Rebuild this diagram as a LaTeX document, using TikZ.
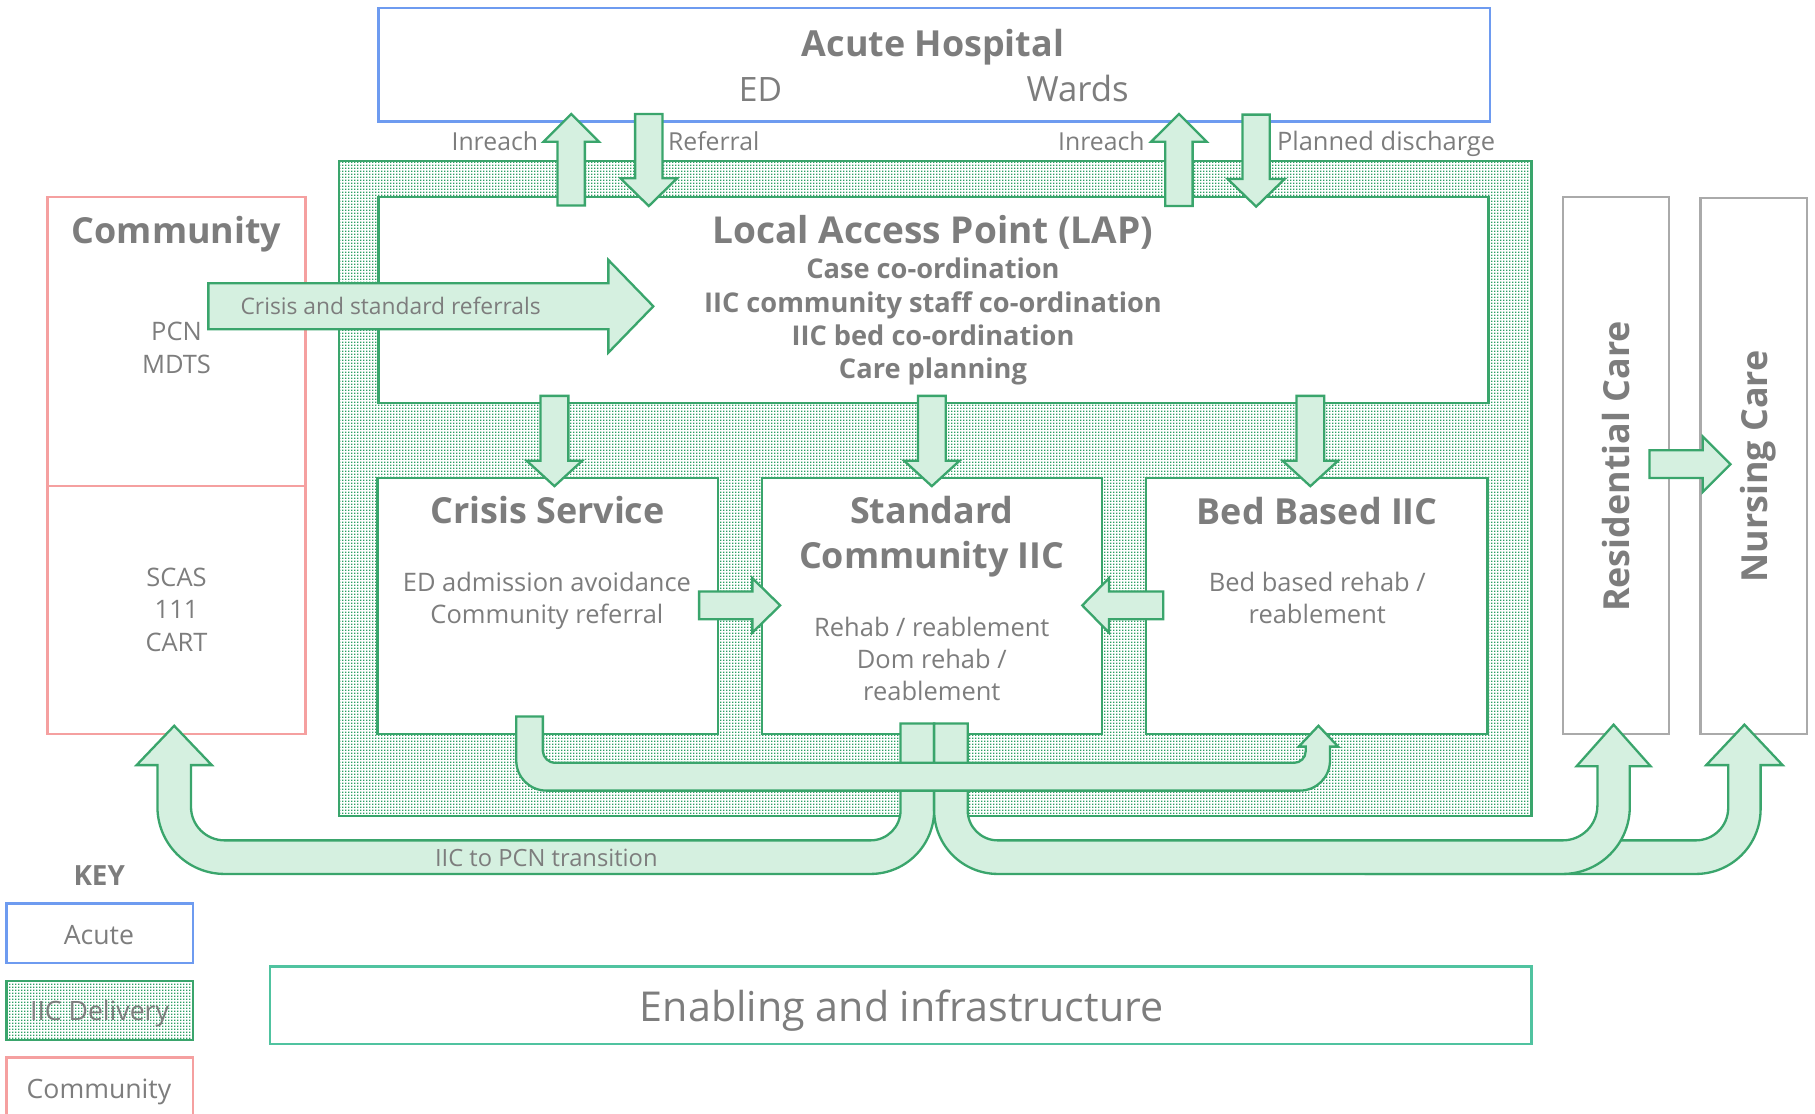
\documentclass[tikz,border=0pt]{standalone}
\usepackage{fontspec}
\setmainfont{Open Sans}
\usetikzlibrary{patterns}
\definecolor{tgray}{RGB}{125,125,125}
\definecolor{bblue}{RGB}{110,155,240}
\definecolor{ggreen}{RGB}{58,165,108}
\definecolor{dotgreen}{RGB}{45,160,100}
\definecolor{lgreen}{RGB}{213,240,224}
\definecolor{ppink}{RGB}{245,160,160}
\definecolor{bgray}{RGB}{170,170,170}
\definecolor{tealb}{RGB}{80,195,160}
\pgfdeclarepatternformonly{finedots}{\pgfqpoint{0pt}{0pt}}{\pgfqpoint{2.592pt}{2.592pt}}{\pgfqpoint{2.592pt}{2.592pt}}{\pgfpathrectangle{\pgfqpoint{0pt}{0pt}}{\pgfqpoint{1.6pt}{1.6pt}}\pgfusepath{fill}}
\newcommand\fsz[1]{\fontsize{#1}{#1}\selectfont}
% vertical block arrow: cx, tail y, head-base y, tip y, shaft half width, head half width
\newcommand\vblock[6]{\draw[blk] (#1-#5,#2) -- (#1-#5,#3) -- (#1-#6,#3) -- (#1,#4) -- (#1+#6,#3) -- (#1+#5,#3) -- (#1+#5,#2) -- cycle;}
% horizontal block arrow: cy, tail x, head-base x, tip x, shaft half width, head half width
\newcommand\hblock[6]{\draw[blk] (#2,#1-#5) -- (#3,#1-#5) -- (#3,#1-#6) -- (#4,#1) -- (#3,#1+#6) -- (#3,#1+#5) -- (#2,#1+#5) -- cycle;}
\tikzset{
  x=1pt, y=-1pt,
  blk/.style={draw=ggreen, fill=lgreen, line width=2pt, line join=miter},
  gbox/.style={draw=ggreen, fill=white, line width=2pt},
  dotted area/.style={pattern=finedots, pattern color=dotgreen},
  tx/.style={anchor=base, inner sep=0pt, text=tgray},
  txe/.style={anchor=base east, inner sep=0pt, text=tgray},
  txw/.style={anchor=base west, inner sep=0pt, text=tgray},
  bt/.style={font=\fsz{31}\bfseries},
  lt/.style={font=\fsz{23.5}\bfseries},
  rt/.style={font=\fsz{22}},
}
\begin{document}
\begin{tikzpicture}
\useasboundingbox (0,0) rectangle (1568,962);
% Community
\draw[draw=ppink, line width=2pt] (41,170) rectangle (264,634);
\draw[draw=ppink, line width=2pt] (41,420) -- (264,420);
% Acute
\draw[draw=bblue, line width=2pt] (327,7) rectangle (1287,105);
% IIC delivery area
\fill[dotted area] (293,139) rectangle (1323,705);
\draw[draw=ggreen, line width=2pt] (293,139) rectangle (1323,705);
\draw[gbox] (327,170) rectangle (1286,348);
\draw[gbox] (326,413) rectangle (620,634);
\draw[gbox] (658,413) rectangle (952,634);
\draw[gbox] (990,413) rectangle (1285,634);
% Residential / Nursing
\draw[draw=bgray, line width=2pt] (1350,170) rectangle (1442,634);
\draw[draw=bgray, line width=2pt] (1469,171) rectangle (1561,634);
% Enabling
\draw[draw=tealb, line width=2pt] (233.5,835) rectangle (1323,902);
% Key
\draw[draw=bblue, line width=2pt] (5.5,780.5) rectangle (166.5,832);
\fill[dotted area] (5.5,847.5) rectangle (166.5,898.5);
\draw[draw=ggreen, line width=2pt] (5.5,847.5) rectangle (166.5,898.5);
\draw[draw=ppink, line width=2pt] (5.5,913.5) rectangle (166.5,980);

% top arrows
\vblock{493.5}{177.5}{122.4}{98.5}{11.8}{24}
\vblock{560.5}{98.5}{154}{178}{11.8}{24.5}
\vblock{1018.5}{178}{122.4}{98.5}{11.8}{24}
\vblock{1085.2}{99}{154.7}{178.5}{11.8}{24.5}
% LAP to services
\vblock{479}{342}{398}{420}{12}{24}
\vblock{805}{342}{398}{420}{12}{24}
\vblock{1132}{342}{398}{420}{12}{24}
% horizontal arrows
\hblock{523}{604}{650}{674}{12}{23.5}
\hblock{523}{1005}{958}{935}{12}{23.5}
\hblock{401}{1425}{1471}{1495}{12}{24}
\hblock{264.6}{180}{525.6}{564.4}{19.9}{40}

% nursing band
\draw[blk] (1180,726) -- (1465,726) .. controls (1480.5,726) and (1493,713.5) .. (1493,698) -- (1493,661) -- (1474,661) -- (1507,626) -- (1540,661) -- (1521,661) -- (1521,699) .. controls (1521,730) and (1496,755) .. (1465,755) -- (1180,755) -- cycle;
% IIC to PCN transition
\draw[blk] (778,625) -- (778,700) .. controls (778,714.4) and (766.4,726) .. (752,726) -- (194,726) .. controls (178,726) and (165,713) .. (165,697) -- (165,661) -- (183,661) -- (150.5,627) -- (118,661) -- (136,661) -- (136,697) .. controls (136,729) and (162,755) .. (194,755) -- (752,755) .. controls (782.4,755) and (807,730.4) .. (807,700) -- (807,625) -- cycle;
% to residential
\draw[blk] (807,625) -- (807,700) .. controls (807,730.4) and (831.6,755) .. (862,755) -- (1350,755) .. controls (1382,755) and (1408,729) .. (1408,697) -- (1408,662) -- (1426,662) -- (1394,626) -- (1362,662) -- (1380,662) -- (1380,696) .. controls (1380,712.6) and (1366.6,726) .. (1350,726) -- (862,726) .. controls (847.6,726) and (836,714.4) .. (836,700) -- (836,625) -- cycle;
% crisis to bed U arrow
\draw[blk] (446,619) -- (446,657) .. controls (446,671.4) and (457.6,683) .. (472,683) -- (1123,683) .. controls (1137.4,683) and (1149,671.4) .. (1149,657) -- (1149,645) -- (1156,645) -- (1139,627) -- (1122,645) -- (1128,645) -- (1128,649) .. controls (1128,654.5) and (1123.5,659) .. (1118,659) -- (479,659) .. controls (474.5,659) and (469,654.5) .. (469,649) -- (469,619) -- cycle;

% texts
\node[tx,bt] (acuteT) at (806,49) {Acute Hospital};
\node[tx,font=\fsz{29}] (edT) at (657,87.4) {ED};
\node[tx,font=\fsz{30}] (wardsT) at (931,87.7) {Wards};
\node[txe,font=\fsz{21.4}] (inr1) at (465,129.7) {Inreach};
\node[txw,font=\fsz{21.4}] (refT) at (577,129.7) {Referral};
\node[txe,font=\fsz{21.4}] (inr2) at (989,129.7) {Inreach};
\node[txw,font=\fsz{22}] (planT) at (1103,129.7) {Planned discharge};

\node[tx,font=\fsz{32}\bfseries] (lapT) at (806,210) {Local Access Point (LAP)};
\node[tx,lt] (lap1) at (806,240.9) {Case co-ordination};
\node[tx,lt] (lap2) at (806,269.7) {IIC community staff co-ordination};
\node[tx,lt] (lap3) at (806,298.4) {IIC bed co-ordination};
\node[tx,lt] (lap4) at (806,327.4) {Care planning};

\node[tx,bt] (comT) at (152.5,210) {Community};
\node[tx,rt] (pcn) at (152.5,293.9) {PCN};
\node[tx,rt] (mdts) at (152.5,322.4) {MDTS};
\node[tx,rt] (scas) at (152.5,506.9) {SCAS};
\node[tx,rt] (n111) at (152.5,533.9) {111};
\node[tx,rt] (cart) at (152.5,562.9) {CART};

\node[tx,font=\fsz{19.7}] (crisRef) at (337.5,271.4) {Crisis and standard referrals};

\node[tx,bt] (crisT) at (473,452) {Crisis Service};
\node[tx,rt] (cr1) at (472.5,510.9) {ED admission avoidance};
\node[tx,rt] (cr2) at (472.5,538.4) {Community referral};

\node[tx,bt] (stT1) at (805,452.5) {Standard};
\node[tx,bt] (stT2) at (805,491) {Community IIC};
\node[tx,rt] (st1) at (805,549.6) {Rehab / reablement};
\node[tx,rt] (st2) at (805,577.9) {Dom rehab /};
\node[tx,rt] (st3) at (805,604.9) {reablement};

\node[tx,bt] (bedT) at (1138,453) {Bed Based IIC};
\node[tx,rt] (bd1) at (1138,510.9) {Bed based rehab /};
\node[tx,rt] (bd2) at (1138,538.9) {reablement};

\node[tx,bt,rotate=90] (resT) at (1408,403) {Residential Care};
\node[tx,bt,rotate=90] (nurT) at (1527,403) {Nursing Care};

\node[tx,font=\fsz{20.5}] (pcnT) at (472,748.3) {IIC to PCN transition};

\node[tx,font=\fsz{24}\bfseries] (keyT) at (85.7,764.6) {KEY};
\node[tx,font=\fsz{23}] (keyA) at (85.5,815.6) {Acute};
\node[tx,font=\fsz{23}] (keyI) at (86,881.8) {IIC Delivery};
\node[tx,font=\fsz{23}] (keyC) at (85.5,948.6) {Community};

\node[tx,font=\fsz{35.6}] (enabT) at (779,882.7) {Enabling and infrastructure};
\end{tikzpicture}
\end{document}
